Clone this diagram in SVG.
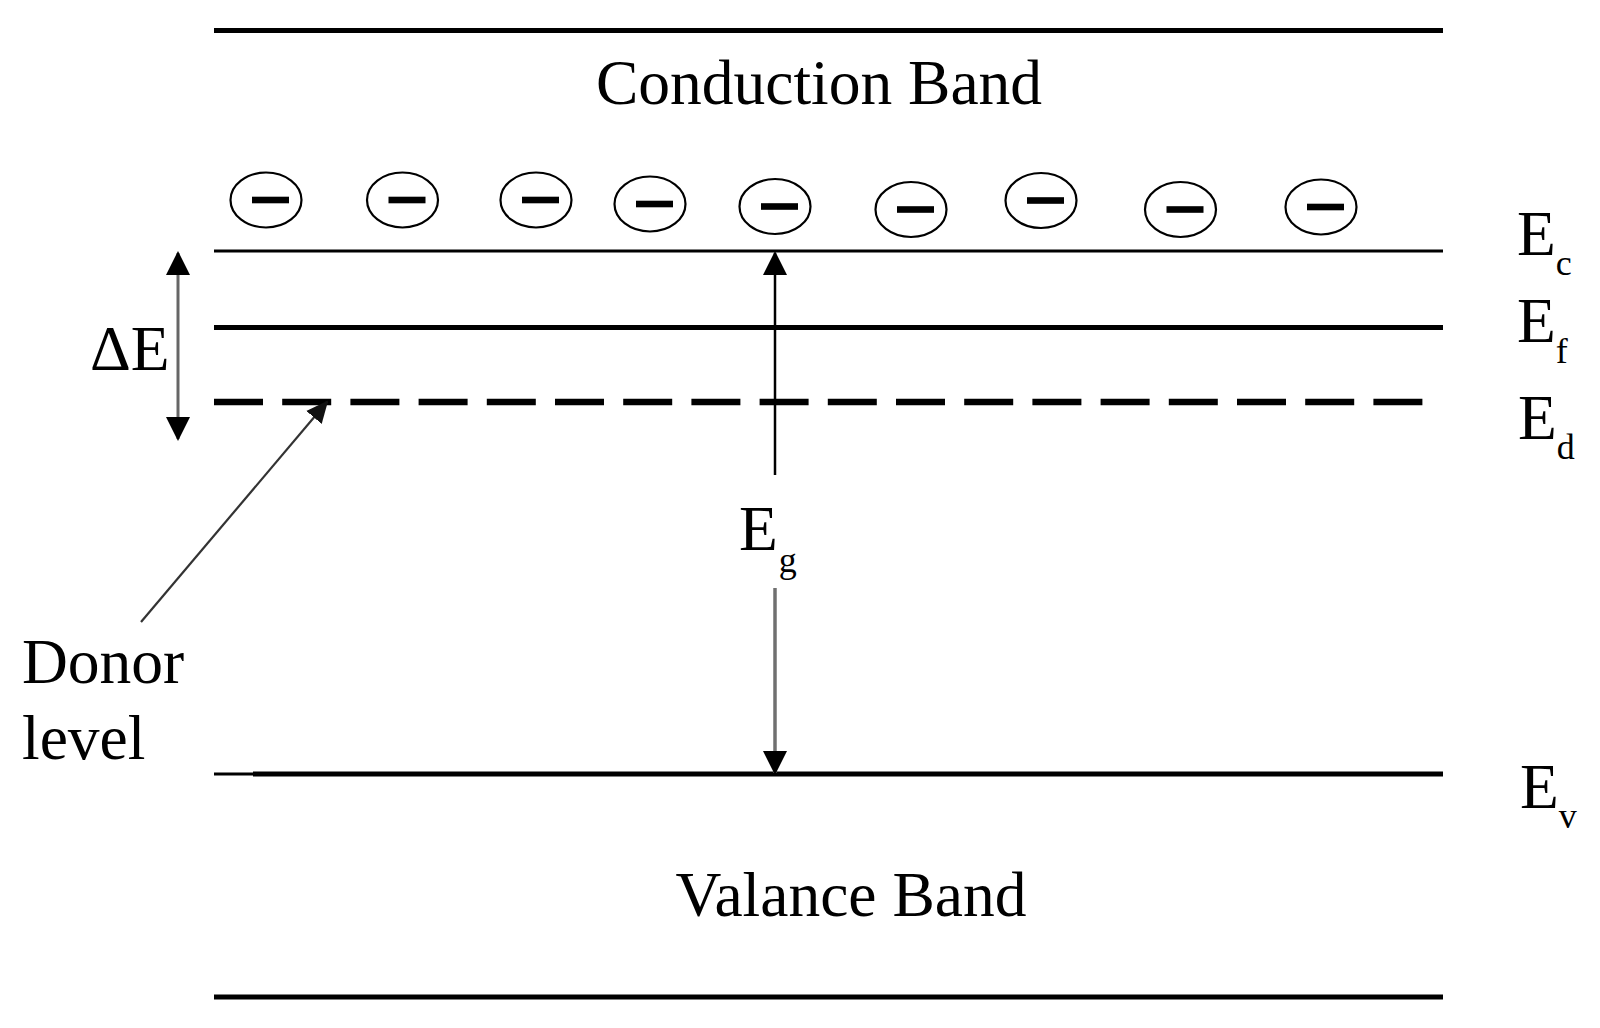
<svg xmlns="http://www.w3.org/2000/svg" width="1600" height="1028" viewBox="0 0 1600 1028">
<style>
  text { font-family: "Liberation Serif", "Times New Roman", serif; fill: #000; }
  .lbl { font-size: 63.5px; }
  .sub { font-size: 36px; }
  .band { stroke: #000; fill: none; }
  .e-ring { fill: #fff; stroke: #000; stroke-width: 2.2; }
  .e-bar { fill: #000; }
</style>
<defs>
  <marker id="head" viewBox="0 0 24 24" refX="22" refY="12" markerWidth="24" markerHeight="24" markerUnits="userSpaceOnUse" orient="auto">
    <path d="M0,0 L24,12 L0,24 Z" fill="#000"/>
  </marker>
  <marker id="headS" viewBox="0 0 24 24" refX="22" refY="12" markerWidth="22" markerHeight="22" markerUnits="userSpaceOnUse" orient="auto">
    <path d="M0,1 L24,12 L0,23 Z" fill="#111"/>
  </marker>
  <g id="electron">
    <ellipse class="e-ring" cx="0" cy="0" rx="35.5" ry="27.5"/>
    <rect class="e-bar" x="-14" y="-3.3" width="37" height="6.6"/>
  </g>
</defs>
<rect x="0" y="0" width="1600" height="1028" fill="#fff"/>

<g id="levels">
  <line id="top-edge" class="band" x1="214" y1="30.5" x2="1443" y2="30.5" stroke-width="5"/>
  <line id="Ec-line" class="band" x1="214" y1="251" x2="1443" y2="251" stroke-width="3"/>
  <line id="Ef-line" class="band" x1="214" y1="327.5" x2="1443" y2="327.5" stroke-width="5"/>
  <line id="Ed-line" class="band" x1="214" y1="402" x2="1423" y2="402" stroke-width="6.5" stroke-dasharray="49 19.2"/>
  <line id="Ev-line-thin" class="band" x1="214" y1="774" x2="253" y2="774" stroke-width="3"/>
  <line id="Ev-line" class="band" x1="253" y1="774" x2="1443" y2="774" stroke-width="5"/>
  <line id="bottom-edge" class="band" x1="214" y1="997" x2="1443" y2="997" stroke-width="5"/>
</g>

<g id="electrons">
  <use href="#electron" x="266" y="200"/>
  <use href="#electron" x="402.5" y="200"/>
  <use href="#electron" x="536" y="200"/>
  <use href="#electron" x="650" y="204"/>
  <use href="#electron" x="775" y="206.5"/>
  <use href="#electron" x="911" y="209.5"/>
  <use href="#electron" x="1041" y="200.5"/>
  <use href="#electron" x="1180.5" y="209.5"/>
  <use href="#electron" x="1321" y="207"/>
</g>

<g id="connectors">
  <line id="dE-up" x1="178" y1="330" x2="178" y2="253" stroke="#666" stroke-width="3" marker-end="url(#head)"/>
  <line id="dE-down" x1="178" y1="330" x2="178" y2="439" stroke="#666" stroke-width="3" marker-end="url(#head)"/>
  <line id="Eg-up" x1="775" y1="475" x2="775" y2="253" stroke="#000" stroke-width="2.5" marker-end="url(#head)"/>
  <line id="Eg-down" x1="775" y1="588" x2="775" y2="773" stroke="#707070" stroke-width="3.5" marker-end="url(#head)"/>
  <line id="donor-arrow" x1="141" y1="622" x2="327" y2="402" stroke="#333" stroke-width="2.2" marker-end="url(#headS)"/>
</g>

<g id="label-conduction"><text class="lbl" x="819" y="104" text-anchor="middle">Conduction Band</text></g>
<g id="label-valance"><text class="lbl" x="851" y="916" text-anchor="middle">Valance Band</text></g>
<g id="label-dE"><text class="lbl" x="90" y="370">ΔE</text></g>
<g id="label-donor">
  <text class="lbl" x="22" y="683">Donor</text>
  <text class="lbl" x="22" y="759">level</text>
</g>
<g id="label-Eg"><text class="lbl" x="739" y="550">E<tspan class="sub" dx="1" dy="22">g</tspan></text></g>
<g id="label-Ec"><text class="lbl" x="1517" y="255">E<tspan class="sub" dx="0" dy="20">c</tspan></text></g>
<g id="label-Ef"><text class="lbl" x="1517" y="342">E<tspan class="sub" dx="0" dy="21">f</tspan></text></g>
<g id="label-Ed"><text class="lbl" x="1518" y="439">E<tspan class="sub" dx="0" dy="20">d</tspan></text></g>
<g id="label-Ev"><text class="lbl" x="1520" y="808">E<tspan class="sub" dx="0" dy="20">v</tspan></text></g>
</svg>
